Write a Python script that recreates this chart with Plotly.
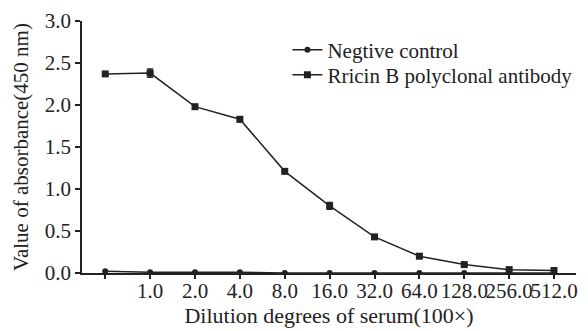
import plotly.graph_objects as go

x_pos = [0, 1, 2, 3, 4, 5, 6, 7, 8, 9, 10]
tick_labels = ["", "1.0", "2.0", "4.0", "8.0", "16.0", "32.0", "64.0", "128.0", "256.0", "512.0"]
neg_control = [0.02, 0.01, 0.01, 0.01, 0.0, 0.0, 0.0, 0.0, 0.0, 0.0, 0.0]
ricin_b = [2.37, 2.38, 1.98, 1.83, 1.21, 0.80, 0.43, 0.20, 0.10, 0.04, 0.03]
ricin_err = [0.01, 0.05, 0.01, 0.03, 0.01, 0.04, 0.01, 0.01, 0.01, 0.01, 0.01]

font = "Liberation Serif"
ink = "#222"
fig = go.Figure()
fig.add_trace(go.Scatter(
    x=x_pos, y=neg_control, mode="lines+markers", name="Negtive control",
    line=dict(color=ink, width=1.5),
    marker=dict(symbol="circle", size=6, color=ink),
    legend="legend",
))
fig.add_trace(go.Scatter(
    x=x_pos, y=ricin_b, mode="lines+markers", name="Rricin B polyclonal antibody",
    line=dict(color=ink, width=1.5),
    marker=dict(symbol="square", size=7, color=ink),
    error_y=dict(type="data", array=ricin_err, color=ink, thickness=1.5, width=3),
    legend="legend2",
))
leg_common = dict(xanchor="left", yanchor="middle", font=dict(family=font, size=21, color=ink),
                  bgcolor="rgba(0,0,0,0)", itemwidth=30)
fig.update_layout(
    width=588, height=331,
    margin=dict(l=82, r=11, t=21, b=58),
    paper_bgcolor="white", plot_bgcolor="white",
    font=dict(family=font, size=21, color=ink),
    showlegend=True,
    legend=dict(x=0.415, y=0.885, **leg_common),
    legend2=dict(x=0.415, y=0.785, **leg_common),
    xaxis=dict(
        range=[-0.518, 10.49], tickmode="array", tickvals=x_pos, ticktext=tick_labels,
        tickangle=0, ticklabelstandoff=-6,
        showline=True, linecolor=ink, linewidth=1.5, showgrid=False, zeroline=False,
        ticks="outside", ticklen=4, tickcolor=ink, tickwidth=1.5, automargin=False,
        tickfont=dict(family=font, size=21, color=ink),
        title=dict(text="Dilution degrees of serum(100×)", font=dict(family=font, size=22, color=ink), standoff=5),
    ),
    yaxis=dict(
        range=[0, 3.0], tickmode="array", tickvals=[0, 0.5, 1, 1.5, 2, 2.5, 3],
        ticktext=["0.0", "0.5", "1.0", "1.5", "2.0", "2.5", "3.0"],
        showline=True, linecolor=ink, linewidth=1.5, showgrid=False, zeroline=False,
        ticks="outside", ticklen=5, tickcolor=ink, tickwidth=1.5, automargin=False,
        tickfont=dict(family=font, size=21, color=ink),
        title=dict(text="Value of absorbance(450 nm)", font=dict(family=font, size=21, color=ink), standoff=10),
    ),
)
fig.write_html("out.html", config={"displayModeBar": False},
               post_script="document.body.style.margin='0';")
